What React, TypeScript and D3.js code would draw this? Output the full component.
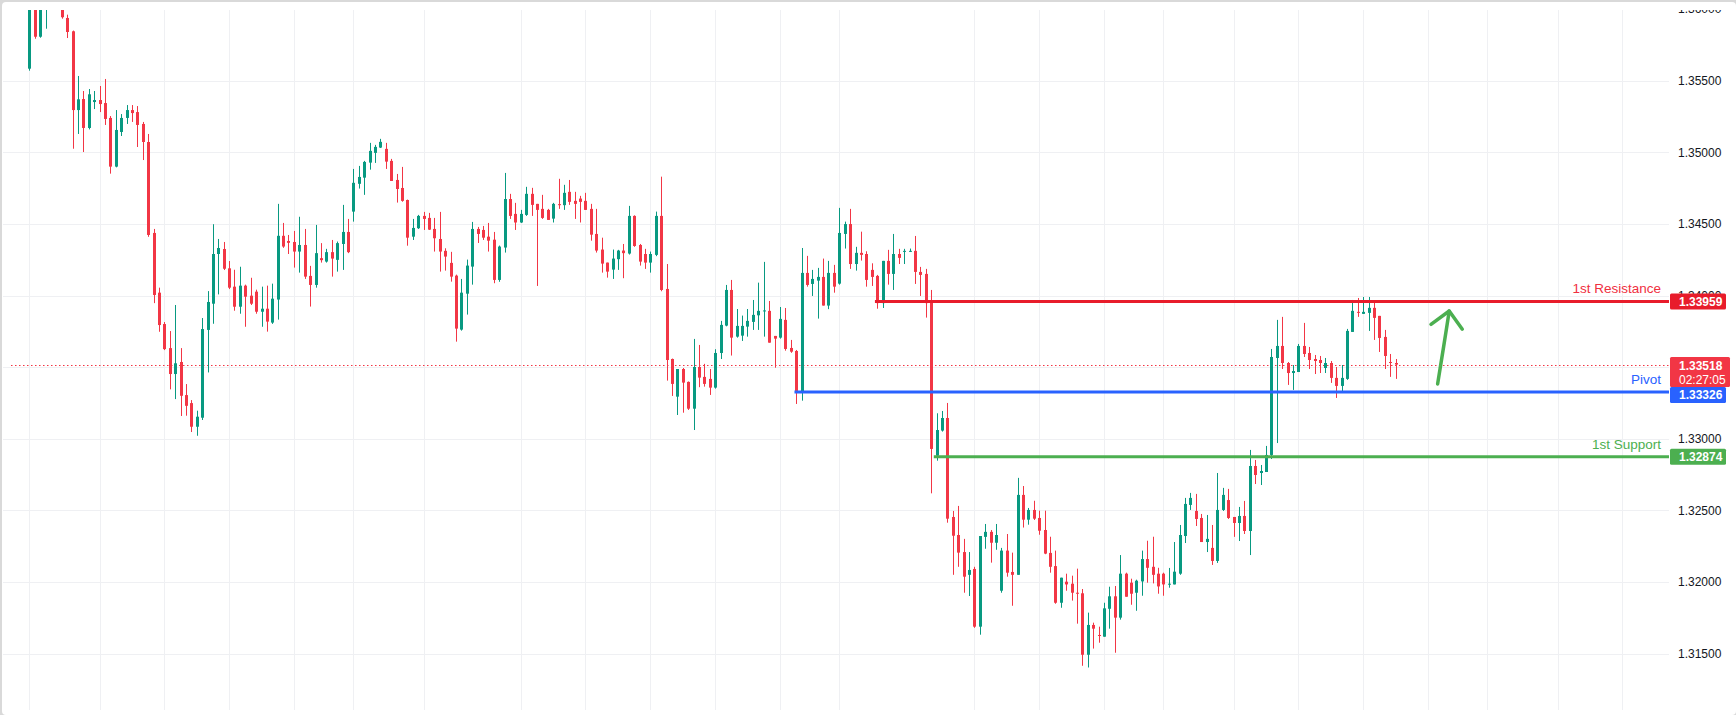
import React from "react";
import * as d3 from "d3";

// candles, [open, high, low, close]
const ohlc: [number, number, number, number][] = [
  [1.35584, 1.361, 1.3557, 1.3605], [1.3605, 1.3608, 1.35793, 1.35807], [1.35807, 1.3612, 1.358, 1.3608],
  [1.3606, 1.3618, 1.35863, 1.3614], [1.3614, 1.3625, 1.3608, 1.362], [1.362, 1.3624, 1.3606, 1.361],
  [1.361, 1.3614, 1.35933, 1.35943], [1.35938, 1.35961, 1.35798, 1.3584], [1.35845, 1.3585, 1.35025, 1.35295],
  [1.35295, 1.35533, 1.35128, 1.3537], [1.35372, 1.35428, 1.35002, 1.3517], [1.3517, 1.35442, 1.3516, 1.35405],
  [1.35351, 1.35428, 1.35302, 1.35365], [1.35365, 1.35463, 1.35281, 1.35337], [1.35344, 1.35512, 1.35191, 1.35233],
  [1.3524, 1.35253, 1.34851, 1.349], [1.349, 1.35295, 1.34895, 1.35156], [1.35142, 1.35267, 1.35114, 1.3524],
  [1.3524, 1.3533, 1.35198, 1.35295], [1.35295, 1.3533, 1.35212, 1.35274], [1.35281, 1.35323, 1.35037, 1.35191],
  [1.35198, 1.35212, 1.34946, 1.35072], [1.35072, 1.35128, 1.3441, 1.34423], [1.34437, 1.34465, 1.33947, 1.34004],
  [1.3402, 1.34055, 1.33747, 1.33794], [1.33801, 1.33815, 1.33619, 1.33626], [1.33633, 1.33752, 1.33345, 1.33452],
  [1.33452, 1.33934, 1.33277, 1.33527], [1.33536, 1.33633, 1.33159, 1.333], [1.33305, 1.33382, 1.33161, 1.3323],
  [1.33249, 1.3327, 1.33047, 1.33084], [1.33084, 1.33196, 1.33021, 1.33154], [1.33147, 1.33843, 1.33131, 1.33766],
  [1.3376, 1.34031, 1.33463, 1.33955], [1.33943, 1.34498, 1.33803, 1.3429], [1.3429, 1.34395, 1.34008, 1.34332],
  [1.34325, 1.34374, 1.34178, 1.34187], [1.3419, 1.34241, 1.34045, 1.34055], [1.34062, 1.3418, 1.33894, 1.33922],
  [1.33922, 1.34201, 1.33873, 1.34069], [1.34069, 1.34076, 1.33782, 1.33992], [1.33999, 1.34124, 1.33934, 1.33943],
  [1.34027, 1.34041, 1.33873, 1.33887], [1.33887, 1.34062, 1.33782, 1.33908], [1.33908, 1.34069, 1.33748, 1.33818],
  [1.33811, 1.34083, 1.33802, 1.33978], [1.33972, 1.3464, 1.33832, 1.34417], [1.34417, 1.34507, 1.34333, 1.34342],
  [1.34381, 1.34423, 1.3429, 1.34368], [1.34374, 1.34451, 1.34195, 1.34307], [1.34307, 1.3455, 1.3416, 1.34353],
  [1.34353, 1.34465, 1.34116, 1.34132], [1.34137, 1.34207, 1.33923, 1.34074], [1.34074, 1.34493, 1.34055, 1.34296],
  [1.34261, 1.34366, 1.3423, 1.34247], [1.34237, 1.34326, 1.3423, 1.34303], [1.34303, 1.34388, 1.34132, 1.34258],
  [1.34249, 1.34377, 1.34167, 1.34366], [1.3436, 1.34633, 1.34179, 1.34444], [1.34444, 1.34535, 1.34296, 1.34303],
  [1.34586, 1.34884, 1.34516, 1.34787], [1.3478, 1.34905, 1.34747, 1.34828], [1.34823, 1.3494, 1.34703, 1.34933],
  [1.34928, 1.35066, 1.34879, 1.3501], [1.34996, 1.35052, 1.34926, 1.35038], [1.35033, 1.35094, 1.3503, 1.35073],
  [1.35024, 1.35066, 1.34884, 1.34935], [1.3494, 1.34954, 1.348, 1.348], [1.34807, 1.34849, 1.34649, 1.34744],
  [1.34751, 1.34898, 1.34655, 1.34661], [1.34667, 1.3467, 1.34348, 1.34404], [1.34411, 1.34535, 1.34388, 1.34472],
  [1.3447, 1.34563, 1.34465, 1.34556], [1.34556, 1.34584, 1.34458, 1.34535], [1.34542, 1.34577, 1.34458, 1.3446],
  [1.34465, 1.34542, 1.34307, 1.344], [1.34395, 1.34584, 1.34167, 1.34307], [1.34312, 1.3433, 1.34174, 1.34272],
  [1.34228, 1.34305, 1.34097, 1.34132], [1.34139, 1.34146, 1.33678, 1.33769], [1.33762, 1.34116, 1.33755, 1.3402],
  [1.34013, 1.34251, 1.33867, 1.34209], [1.34202, 1.34514, 1.34076, 1.34465], [1.34465, 1.34479, 1.34367, 1.3443],
  [1.34458, 1.34486, 1.34388, 1.34404], [1.34411, 1.34507, 1.34307, 1.34383], [1.3439, 1.34444, 1.34086, 1.34109],
  [1.34109, 1.34349, 1.34096, 1.34342], [1.34335, 1.34856, 1.343, 1.34674], [1.34674, 1.3471, 1.34535, 1.34556],
  [1.3457, 1.34647, 1.34458, 1.3451], [1.3451, 1.34598, 1.34507, 1.3457], [1.34563, 1.34759, 1.34556, 1.3471],
  [1.3471, 1.34752, 1.34556, 1.34633], [1.3464, 1.3464, 1.34067, 1.34598], [1.34605, 1.34703, 1.34535, 1.34542],
  [1.34598, 1.34605, 1.34528, 1.34528], [1.34537, 1.34647, 1.3451, 1.3464], [1.34638, 1.34815, 1.34605, 1.34633],
  [1.34631, 1.34773, 1.34598, 1.34717], [1.34724, 1.34807, 1.34633, 1.34654], [1.34661, 1.34724, 1.34535, 1.3464],
  [1.34677, 1.34696, 1.3451, 1.34654], [1.34661, 1.34717, 1.34598, 1.34598], [1.34605, 1.3464, 1.34383, 1.34425],
  [1.3443, 1.34605, 1.343, 1.34314], [1.34321, 1.34404, 1.3416, 1.34223], [1.3423, 1.3423, 1.34125, 1.34167],
  [1.34181, 1.34321, 1.34116, 1.34258], [1.34254, 1.34319, 1.34179, 1.34314], [1.34314, 1.3436, 1.34121, 1.34296],
  [1.34293, 1.34626, 1.34286, 1.34556], [1.34556, 1.3456, 1.3434, 1.34346], [1.34353, 1.3436, 1.34209, 1.34237],
  [1.3429, 1.34326, 1.34186, 1.3423], [1.3423, 1.34307, 1.3416, 1.3429], [1.34284, 1.34586, 1.34275, 1.34556],
  [1.34556, 1.3483, 1.3403, 1.34039], [1.34046, 1.3422, 1.33406, 1.3355], [1.33557, 1.3356, 1.33299, 1.33383],
  [1.33294, 1.33487, 1.33166, 1.33487], [1.33487, 1.33494, 1.33182, 1.33392], [1.33397, 1.334, 1.33201, 1.3321],
  [1.3321, 1.33697, 1.33061, 1.33501], [1.33501, 1.33655, 1.3336, 1.33427], [1.33432, 1.33523, 1.33364, 1.33383],
  [1.33418, 1.33487, 1.33306, 1.33357], [1.33357, 1.33625, 1.3335, 1.33599], [1.33599, 1.33823, 1.33557, 1.33795],
  [1.3379, 1.34074, 1.33785, 1.34039], [1.34039, 1.34109, 1.33581, 1.33706], [1.33713, 1.33906, 1.33706, 1.33788],
  [1.3372, 1.3386, 1.33683, 1.33788], [1.33783, 1.33906, 1.33713, 1.33823], [1.33816, 1.33969, 1.3376, 1.33865],
  [1.33862, 1.3409, 1.3376, 1.33893], [1.33893, 1.34235, 1.33713, 1.33896], [1.33893, 1.33962, 1.33671, 1.33671],
  [1.33718, 1.33718, 1.33496, 1.33699], [1.33706, 1.3392, 1.33699, 1.33837], [1.3383, 1.33913, 1.33615, 1.33627],
  [1.33634, 1.3369, 1.336, 1.33608], [1.33613, 1.3362, 1.33243, 1.33322], [1.33322, 1.34332, 1.33266, 1.34158],
  [1.34158, 1.34277, 1.34062, 1.34074], [1.34081, 1.34179, 1.33997, 1.34116], [1.34104, 1.34193, 1.33839, 1.3413],
  [1.3413, 1.34258, 1.3393, 1.3393], [1.3393, 1.34242, 1.33905, 1.34158], [1.34158, 1.34214, 1.3402, 1.34062],
  [1.34083, 1.34612, 1.34076, 1.34437], [1.3443, 1.34516, 1.34328, 1.34499], [1.34499, 1.34605, 1.34186, 1.3422],
  [1.3422, 1.3434, 1.34174, 1.34298], [1.34298, 1.34446, 1.34244, 1.34284], [1.3429, 1.34309, 1.34062, 1.34109],
  [1.34179, 1.34225, 1.34067, 1.3413], [1.34137, 1.34144, 1.33908, 1.33947], [1.33947, 1.34242, 1.33913, 1.34242],
  [1.34242, 1.34319, 1.34076, 1.34151], [1.34151, 1.3443, 1.34039, 1.3429], [1.3429, 1.34326, 1.3422, 1.34263],
  [1.34305, 1.34326, 1.3422, 1.34312], [1.34305, 1.34328, 1.34305, 1.34312], [1.34312, 1.34416, 1.34081, 1.34165],
  [1.34165, 1.342, 1.33997, 1.34144], [1.34151, 1.34186, 1.33846, 1.33947], [1.33963, 1.34039, 1.32619, 1.32929],
  [1.32882, 1.33178, 1.32847, 1.33061], [1.33057, 1.33194, 1.3305, 1.33145], [1.33145, 1.3325, 1.32414, 1.32442],
  [1.32454, 1.32496, 1.3205, 1.32323], [1.32328, 1.32531, 1.32106, 1.32205], [1.32209, 1.32301, 1.31925, 1.32037],
  [1.3205, 1.32209, 1.31902, 1.32084], [1.32091, 1.32106, 1.3168, 1.31688], [1.31688, 1.32321, 1.31632, 1.32321],
  [1.32315, 1.32405, 1.32232, 1.3235], [1.3235, 1.32363, 1.32135, 1.32274], [1.32274, 1.32405, 1.32225, 1.32328],
  [1.31939, 1.32238, 1.31925, 1.32219], [1.32219, 1.32335, 1.32037, 1.32065], [1.3207, 1.32205, 1.31834, 1.3205],
  [1.3205, 1.32727, 1.3205, 1.32608], [1.32608, 1.3267, 1.3238, 1.32435], [1.32435, 1.32517, 1.324, 1.32503],
  [1.32503, 1.32567, 1.32433, 1.32442], [1.32447, 1.32498, 1.3233, 1.32358], [1.32363, 1.32498, 1.32194, 1.32198],
  [1.32203, 1.32316, 1.32065, 1.32106], [1.32111, 1.32219, 1.31848, 1.31855], [1.31855, 1.3203, 1.3182, 1.3203],
  [1.32002, 1.32058, 1.31939, 1.31983], [1.31988, 1.32044, 1.3187, 1.31925], [1.31925, 1.32093, 1.31709, 1.31918],
  [1.31921, 1.31951, 1.31415, 1.31492], [1.31492, 1.31786, 1.31403, 1.317], [1.317, 1.31716, 1.31535, 1.31674],
  [1.3163, 1.31688, 1.31576, 1.31625], [1.31618, 1.31855, 1.31618, 1.31816], [1.31813, 1.31967, 1.31674, 1.319],
  [1.319, 1.31972, 1.31506, 1.31751], [1.31751, 1.32188, 1.31737, 1.32058], [1.32058, 1.32065, 1.31897, 1.31897],
  [1.31995, 1.32023, 1.31841, 1.31918], [1.31925, 1.32016, 1.31799, 1.32009], [1.32004, 1.32219, 1.31904, 1.3216],
  [1.3216, 1.32288, 1.31995, 1.32099], [1.32106, 1.32316, 1.3199, 1.3205], [1.32058, 1.32099, 1.31918, 1.31969],
  [1.32058, 1.32065, 1.31904, 1.31983], [1.31983, 1.32098, 1.3196, 1.31988], [1.31983, 1.32279, 1.31983, 1.32072],
  [1.32058, 1.32398, 1.3205, 1.32328], [1.32321, 1.32587, 1.32272, 1.32545], [1.32538, 1.32622, 1.32503, 1.32587],
  [1.32496, 1.32615, 1.32391, 1.3244], [1.32447, 1.32475, 1.32279, 1.32279], [1.32279, 1.32468, 1.32209, 1.32301],
  [1.32238, 1.32398, 1.32119, 1.32147], [1.32147, 1.32761, 1.32133, 1.32503], [1.32503, 1.32657, 1.32496, 1.32608],
  [1.32572, 1.3265, 1.3244, 1.32447], [1.32454, 1.32454, 1.32315, 1.32412], [1.32412, 1.32524, 1.32286, 1.32461],
  [1.32461, 1.32566, 1.32335, 1.32356], [1.32356, 1.32922, 1.32188, 1.3281], [1.3281, 1.32852, 1.32684, 1.32747],
  [1.32761, 1.32817, 1.32677, 1.32775], [1.32768, 1.3295, 1.32768, 1.32887], [1.32887, 1.33627, 1.32859, 1.33571],
  [1.33564, 1.3383, 1.3297, 1.33648], [1.33648, 1.33851, 1.33487, 1.33529], [1.33529, 1.33536, 1.33376, 1.33459],
  [1.33459, 1.33515, 1.33341, 1.33473], [1.33466, 1.33662, 1.33466, 1.33648], [1.33648, 1.33809, 1.33571, 1.33592],
  [1.33599, 1.33641, 1.33487, 1.3355], [1.33557, 1.33585, 1.33452, 1.33543], [1.3355, 1.33578, 1.33459, 1.33529],
  [1.33494, 1.33564, 1.33459, 1.33529], [1.33529, 1.33543, 1.3339, 1.33425], [1.33425, 1.33501, 1.33285, 1.33369],
  [1.33369, 1.33515, 1.33327, 1.33425], [1.33418, 1.33767, 1.33411, 1.33753], [1.33746, 1.33969, 1.33746, 1.33893],
  [1.33886, 1.33983, 1.33851, 1.33879], [1.33872, 1.3399, 1.33872, 1.33886], [1.33879, 1.3399, 1.33753, 1.33914],
  [1.33914, 1.33948, 1.3369, 1.33844], [1.33858, 1.33858, 1.33606, 1.33704], [1.33711, 1.3376, 1.33487, 1.33578],
  [1.33536, 1.33592, 1.33432, 1.33529], [1.33529, 1.33557, 1.33418, 1.33518],
];

const priceTicks = [1.315, 1.32, 1.325, 1.33, 1.335, 1.34, 1.345, 1.35, 1.355, 1.36];
// bar index of each vertical (time) grid line
const timeGrid = [0, 13, 25, 37, 49, 60, 73, 91, 103, 115, 127, 139, 150, 175, 187, 199, 210, 223, 235, 247, 259, 270, 283, 295];

const levels = [
  { name: "1st Resistance", price: 1.33959, from: 156.6, line: "#e81c2b", text: "#f0303f" },
  { name: "Pivot", price: 1.33326, from: 141.7, line: "#2962ff", text: "#2962ff" },
  { name: "1st Support", price: 1.32874, from: 167.5, line: "#4caf50", text: "#4caf50" },
];
const lastPrice = 1.33518;
const countdown = "02:27:05";

// hand drawn arrow, [bar index, price]
const arrowShaft: [number, number][] = [[260.8, 1.33383], [261.9, 1.3364], [262.95, 1.33892]];
const arrowHead: [number, number][] = [[259.57, 1.33799], [262.95, 1.33892], [265.37, 1.33765]];

const W = 1736;
const H = 715;
const plot = { left: 3, right: 1669, top: 10, bottom: 710 };
const UP = "#089981";
const DOWN = "#f23645";
const font = "'Liberation Sans', Arial, sans-serif";

export default function App() {
  const x = d3.scaleLinear().domain([0, 253]).range([29.3, 29.3 + 253 * 5.4]);
  const y = d3.scaleLinear().domain([1.315, 1.355]).range([653.6, 80.7]);
  const fmt = (v: number) => v.toFixed(5);

  const line = d3
    .line<[number, number]>()
    .x((d) => x(d[0]))
    .y((d) => y(d[1]))
    .curve(d3.curveCatmullRom);

  const lastY = y(lastPrice);

  return (
    <svg
      width={W}
      height={H}
      style={{ position: "absolute", left: 0, top: 0, fontFamily: font }}
    >
      <defs>
        <clipPath id="plot">
          <rect x={plot.left} y={plot.top} width={plot.right - plot.left} height={plot.bottom - plot.top} />
        </clipPath>
        <clipPath id="axis">
          <rect x={plot.right} y={plot.top} width={W - plot.right} height={H - plot.top} />
        </clipPath>
      </defs>
      <rect width={W} height={H} fill="#d9d9d9" />
      <rect x={2} y={2} width={W - 2} height={H - 2} rx={4} fill="#ffffff" />

      <g clipPath="url(#plot)">
        {timeGrid.map((i) => (
          <line key={"v" + i} x1={Math.round(x(i)) + 0.5} x2={Math.round(x(i)) + 0.5} y1={plot.top} y2={plot.bottom} stroke="#eff0f3" />
        ))}
        {priceTicks.map((p) => (
          <line key={"h" + p} x1={plot.left} x2={plot.right} y1={Math.round(y(p)) + 0.5} y2={Math.round(y(p)) + 0.5} stroke="#eff0f3" />
        ))}

        <line x1={11} x2={plot.right} y1={Math.round(lastY) + 0.5} y2={Math.round(lastY) + 0.5} stroke={DOWN} strokeDasharray="1.5 2.5" />

        {ohlc.map(([o, h, l, c], i) => {
          const cx = Math.round(x(i));
          const col = c >= o ? UP : DOWN;
          const top = y(Math.max(o, c));
          const bh = Math.max(1, Math.abs(y(o) - y(c)));
          return (
            <g key={i}>
              <line x1={cx + 0.5} x2={cx + 0.5} y1={y(h)} y2={y(l)} stroke={col} strokeWidth={1} />
              <rect x={cx - 1} y={top} width={3} height={bh} fill={col} />
            </g>
          );
        })}

        {levels.map((lv) => (
          <g key={lv.name}>
            <line x1={x(lv.from)} x2={plot.right} y1={y(lv.price)} y2={y(lv.price)} stroke={lv.line} strokeWidth={3} />
            <text x={1661} y={y(lv.price) - 13} dy="0.35em" textAnchor="end" fontSize={13.5} fill={lv.text}>
              {lv.name}
            </text>
          </g>
        ))}

        <path d={line(arrowShaft) || ""} fill="none" stroke="#4caf50" strokeWidth={3.5} strokeLinecap="round" />
        <path d={d3.line<[number, number]>().x((d) => x(d[0])).y((d) => y(d[1]))(arrowHead) || ""} fill="none" stroke="#4caf50" strokeWidth={3.5} strokeLinecap="round" strokeLinejoin="round" />
      </g>

      <g clipPath="url(#axis)">
        {priceTicks.map((p) => (
          <text key={"t" + p} x={1678} y={y(p)} dy="0.35em" fontSize={12} fill="#131722">
            {fmt(p)}
          </text>
        ))}
        {levels.map((lv, k) => {
          const cy = k === 1 ? y(lv.price) + 3 : y(lv.price);
          return (
            <g key={"b" + lv.name}>
              <rect x={1670} y={cy - 8} width={56} height={16} rx={1.5} fill={lv.line} />
              <text x={1679} y={cy} dy="0.35em" fontSize={12} fontWeight="bold" fill="#ffffff">
                {fmt(lv.price)}
              </text>
            </g>
          );
        })}
        <rect x={1670} y={lastY - 7.5} width={60} height={30} rx={1.5} fill={DOWN} />
        <text x={1679} y={lastY + 1} dy="0.35em" fontSize={12} fontWeight="bold" fill="#ffffff">
          {fmt(lastPrice)}
        </text>
        <text x={1679} y={lastY + 15} dy="0.35em" fontSize={12} fill="#ffffff">
          {countdown}
        </text>
      </g>
    </svg>
  );
}
